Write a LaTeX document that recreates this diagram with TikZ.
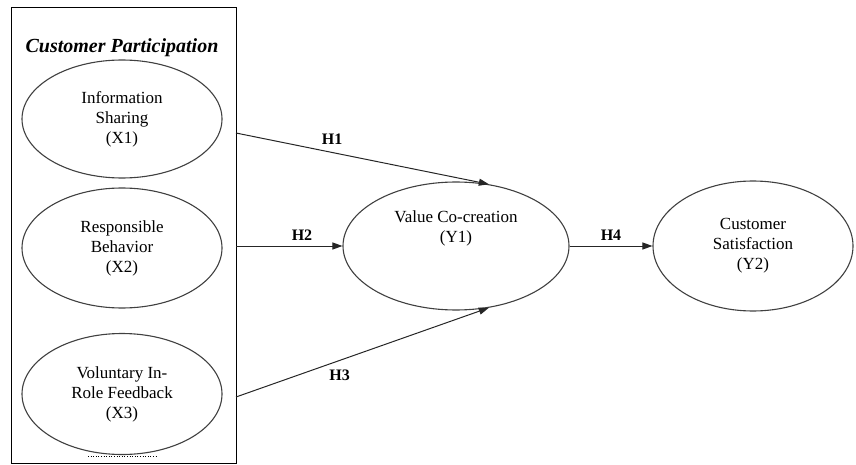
\documentclass[tikz,border=0pt]{standalone}
\usepackage{fontspec}
\setmainfont{Liberation Serif}
\usepackage{xcolor}
\usepackage{tikz}
\usetikzlibrary{positioning,shapes.geometric,arrows.meta}

\begin{document}
\begin{tikzpicture}[x=1pt, y=-1pt,
    construct/.style={draw=black!75, line width=1.1pt, ellipse, inner sep=0pt, align=center, font=\fontsize{17}{20}\selectfont},
    hpath/.style={-{Triangle[length=10pt,width=7pt]}, line width=1pt, draw=black!85},
    hlabel/.style={font=\fontsize{16}{18}\selectfont\bfseries}]
            \useasboundingbox (0,0) rectangle (856,465);

            % Group
            \node[draw, line width=0.8pt, minimum width=225pt, minimum height=456pt, inner sep=0pt] (CP) at (123.5,235) {};
            \node[font=\fontsize{20}{22}\selectfont\bfseries\itshape] (CPtitle) at (122,48) {Customer Participation};

            % Constructs
            \node[construct, minimum width=200pt, minimum height=118pt] (X1) at (122,119) {Information\\Sharing\\(X1)};
            \node[construct, minimum width=200pt, minimum height=120pt] (X2) at (122,248) {Responsible\\Behavior\\(X2)};
            \node[construct, minimum width=200pt, minimum height=121pt] (X3) at (122,394) {Voluntary In-\\Role Feedback\\(X3)};
            \node[construct, minimum width=226pt, minimum height=128pt] (Y1) at (456,246) {};
            \node[align=center, font=\fontsize{17}{20}\selectfont] (Y1text) at (456,228) {Value Co-creation\\(Y1)};
            \node[construct, minimum width=200pt, minimum height=130pt] (Y2) at (753,246) {Customer\\Satisfaction\\(Y2)};
            \draw[dotted, line width=0.6pt] (88,456) -- (158,456);

            % Box edge
            \coordinate (s1) at (236,133);
            \coordinate (s2) at (236,246);
            \coordinate (s3) at (236,397);

            % Arrows
            \draw[hpath] (s1) -- node[hlabel, above=4pt, pos=.38] (H1) {H1} (Y1.62);
            \draw[hpath] (s2) -- node[hlabel, above=2pt, pos=.62] (H2) {H2} (Y1.west);
            \draw[hpath] (s3) -- node[hlabel, below=6pt, pos=.41] (H3) {H3} (Y1.-62);
            \draw[hpath] (Y1.east) -- node[hlabel, above=2pt] (H4) {H4} (Y2.west);
        \end{tikzpicture}
\end{document}
